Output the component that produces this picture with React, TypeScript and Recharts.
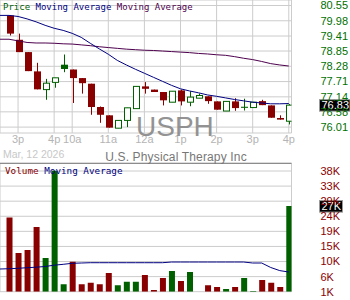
import { ComposedChart, Bar, Line, XAxis, YAxis, CartesianGrid, Cell, ReferenceLine } from "recharts";

const GREEN = "#006000";
const RED = "#880000";
const NAVY = "#000080";
const PURPLE = "#4d004d";
const GRID = "#cccccc";

// x axis: candle index, hour labels
const hourTicks = [1, 5, 7, 11, 15, 19, 23, 27, 31];
const hourLabels = ["3p", "4p", "10a", "11a", "12a", "1p", "2p", "3p", "4p"];

// 15 minute candles
const open = [80.18, 79.27, 78.81, 78.09, 77.41, 77.68, 78.34, 78.16, 77.84, 77.63, 76.76, 76.45, 75.97, 76.26, 76.7, 77.53, 77.41, 77.32, 76.94, 77.38, 76.94, 77.09, 77.16, 76.97, 76.61, 76.97, 76.77, 76.74, 76.98, 76.82, 76.35, 76.23];
const high = [80.18, 79.5, 78.81, 78.41, 77.81, 77.85, 78.72, 78.16, 77.84, 77.63, 76.78, 76.45, 76.26, 76.73, 77.53, 77.69, 77.41, 77.32, 77.35, 77.41, 77.35, 77.26, 77.16, 76.97, 76.97, 77.09, 77.07, 76.94, 77.03, 76.82, 76.45, 76.87];
const low = [79.43, 78.81, 78.1, 77.42, 77.03, 77.48, 78.06, 76.91, 77.26, 76.47, 76.17, 75.99, 75.97, 76.01, 76.7, 77.26, 77.32, 76.82, 76.94, 76.82, 76.79, 77.09, 76.88, 76.66, 76.61, 76.62, 76.63, 76.74, 76.83, 76.36, 76.29, 76.11];
const close = [79.5, 78.81, 78.1, 77.42, 77.65, 77.85, 78.18, 77.84, 77.65, 76.76, 76.47, 75.99, 76.26, 76.73, 77.53, 77.44, 77.32, 77.01, 77.35, 76.97, 77.13, 77.19, 76.98, 76.66, 76.97, 76.72, 76.73, 76.94, 76.83, 76.36, 76.29, 76.83];
// volume in thousands
const volume = [23.6, 12.8, 13.7, 20.7, 11.3, 37.9, 3.3, 10.1, 3.3, 3.7, 3.3, 6.7, 3.0, 4.0, 4.0, 6.1, 1.5, 5.2, 7.3, 4.3, 7.0, 1.0, 3.0, 2.4, 1.8, 2.4, 5.2, 1.2, 4.6, 3.7, 2.4, 27.1];

// moving averages, first value sits one slot before the first candle
const maFast = [80.18, 80.18, 80.14, 80.05, 79.94, 79.81, 79.7, 79.62, 79.51, 79.36, 79.14, 78.93, 78.73, 78.5, 78.33, 78.17, 78.02, 77.87, 77.72, 77.57, 77.44, 77.36, 77.29, 77.21, 77.16, 77.1, 77.04, 76.99, 76.94, 76.91, 76.88, 76.88, 76.89];
const maSlow = [79.29, 79.29, 79.23, 79.17, 79.15, 79.15, 79.14, 79.12, 79.11, 79.08, 79.05, 79.01, 78.98, 78.95, 78.92, 78.9, 78.88, 78.87, 78.85, 78.83, 78.81, 78.79, 78.76, 78.74, 78.71, 78.69, 78.64, 78.58, 78.53, 78.46, 78.38, 78.33, 78.29];
const volMa = [7.92, 8.01, 8.13, 8.32, 8.47, 8.68, 9.08, 9.35, 9.66, 9.75, 9.84, 9.84, 9.84, 9.84, 9.84, 9.84, 9.84, 9.84, 9.84, 10.05, 10.05, 10.05, 10.05, 10.05, 10.05, 10.05, 10.05, 10.05, 9.75, 9.75, 8.38, 7.43, 7.0];

const priceTicks = [76.01, 76.58, 77.14, 77.71, 78.28, 78.85, 79.41, 79.98, 80.55];
const volTicks = [1, 5.6, 10.2, 14.8, 19.4, 24, 28.6, 33.2, 37.8];
const volTop = 40.15;

const rows = maFast.map((f, k) => {
  const j = k - 1;
  const has = j >= 0;
  return {
    i: j,
    o: has ? open[j] : null,
    h: has ? high[j] : null,
    l: has ? low[j] : null,
    c: has ? close[j] : null,
    up: has && j > 0 ? close[j] >= close[j - 1] : false,
    vol: has ? volume[j] : null,
    f,
    s: maSlow[k],
    vma: volMa[k],
  };
});

function Candle(props: any) {
  const { x, y, width, height, payload } = props;
  if (!payload || payload.o == null || !height) return null;
  const { o, h, l, c } = payload;
  const top = height < 0 ? y + height : y;
  const hh = Math.abs(height);
  const k = hh / (h - l);
  const yo = top + (h - o) * k;
  const yc = top + (h - c) * k;
  const bTop = Math.min(yo, yc);
  const bH = Math.max(Math.abs(yo - yc), 1);
  const cx = Math.round(x + width / 2) + 0.5;
  const col = payload.up ? GREEN : RED;
  const hollow = c > o;
  return (
    <g>
      <line x1={cx} x2={cx} y1={top} y2={top + hh} stroke={col} strokeWidth={1} />
      {hollow ? (
        <rect x={cx - 3} y={bTop} width={6} height={bH} fill="#fff" stroke={col} strokeWidth={1} />
      ) : (
        <rect x={cx - 3.5} y={bTop} width={7} height={bH} fill={col} />
      )}
    </g>
  );
}

function Tag({ viewBox, text, w }: any) {
  if (!viewBox) return null;
  const x = viewBox.x + viewBox.width + 28;
  const y = viewBox.y;
  return (
    <g>
      <rect x={x} y={y - 5.5} width={w} height={11.5} fill="#000" stroke="#999" />
      <text x={x + 2} y={y + 4} fill="#fff" fontSize={11} fontFamily="Liberation Sans">{text}</text>
    </g>
  );
}

const axisFont = { fontSize: 11, fontFamily: "Liberation Sans" };

export default function App() {
  return (
    <div style={{ position: "absolute", left: 0, top: 0, width: 350, height: 300, background: "#fff", overflow: "hidden" }}>
      <div style={{ position: "absolute", left: 0, top: 0 }}>
        <ComposedChart width={350} height={150} data={rows} margin={{ top: 0, right: 0, bottom: 0, left: 0 }}>
          <CartesianGrid stroke={GRID} />
          <XAxis
            dataKey="i"
            type="number"
            domain={[-1, 31.3]}
            allowDataOverflow
            ticks={hourTicks}
            interval={0}
            tickFormatter={(v) => hourLabels[hourTicks.indexOf(v)]}
            axisLine={false}
            tickLine={false}
            tickSize={0}
            tickMargin={2}
            height={17}
            tick={{ ...axisFont, fill: "#b4b4b4" }}
          />
          <YAxis
            orientation="right"
            domain={[75.79, 80.755]}
            allowDataOverflow
            ticks={priceTicks}
            interval={0}
            width={58.5}
            axisLine={false}
            tickLine={false}
            tickSize={0}
            tickMargin={29}
            tick={{ ...axisFont, fill: "#007000" }}
            tickFormatter={(v) => v.toFixed(2)}
          />
          <Bar dataKey={(d: any) => (d.o == null ? null : [d.l, d.h])} shape={Candle} barSize={6} isAnimationActive={false} />
          <Line dataKey="s" stroke={PURPLE} strokeWidth={1} dot={false} activeDot={false} isAnimationActive={false} />
          <Line dataKey="f" stroke={NAVY} strokeWidth={1} dot={false} activeDot={false} isAnimationActive={false} />
          <ReferenceLine y={close[31]} stroke="none" label={<Tag text={close[31].toFixed(2)} w={30.5} />} />
        </ComposedChart>
      </div>
      <div style={{ position: "absolute", left: 0, top: 150 }}>
        <ComposedChart width={350} height={150} data={rows} margin={{ top: 13.3, right: 0, bottom: 8.3, left: 0 }}>
          <CartesianGrid stroke={GRID} />
          <XAxis
            dataKey="i"
            type="number"
            domain={[-1, 31.3]}
            allowDataOverflow
            ticks={hourTicks}
            interval={0}
            height={0}
            tick={false}
            axisLine={false}
            tickLine={false}
          />
          <YAxis
            orientation="right"
            domain={[1, volTop]}
            allowDataOverflow
            ticks={volTicks}
            interval={0}
            width={58.5}
            axisLine={false}
            tickLine={false}
            tickSize={0}
            tickMargin={29}
            tick={{ ...axisFont, fill: "#8b0000" }}
            tickFormatter={(v) => Math.round(v) + "K"}
          />
          <Bar dataKey="vol" barSize={6} isAnimationActive={false}>
            {rows.map((r) => (
              <Cell key={r.i} fill={r.up ? GREEN : RED} />
            ))}
          </Bar>
          <Line dataKey="vma" stroke={NAVY} strokeWidth={1} dot={false} activeDot={false} isAnimationActive={false} />
          <ReferenceLine y={volTop} stroke="#7a7a7a" strokeWidth={1} />
          <ReferenceLine y={volume[31]} stroke="none" label={<Tag text={Math.round(volume[31]) + "K"} w={23} />} />
        </ComposedChart>
      </div>
      <svg width={350} height={300} style={{ position: "absolute", left: 0, top: 0, pointerEvents: "none" }}>
        <text x={136} y={135.7} fontSize={28} fontFamily="Liberation Sans" fill="#888" opacity={0.9}>USPH</text>
        <text x={3} y={10} fontSize={9} fontFamily="DejaVu Sans Mono">
          <tspan fill={GREEN}>Price</tspan>
          <tspan fill={NAVY}> Moving Average</tspan>
          <tspan fill={PURPLE}> Moving Average</tspan>
        </text>
        <text x={3} y={157.5} fontSize={10.5} fontFamily="Liberation Sans" fill="#c8c8c8">Mar, 12 2026</text>
        <text x={176} y={161} fontSize={12} fontFamily="Liberation Sans" fill="#777" textAnchor="middle" letterSpacing={0.15}>U.S. Physical Therapy Inc</text>
        <text x={5} y={174} fontSize={9.3} fontFamily="DejaVu Sans Mono">
          <tspan fill={RED}>Volume</tspan>
          <tspan fill={NAVY}> Moving Average</tspan>
        </text>
      </svg>
    </div>
  );
}
